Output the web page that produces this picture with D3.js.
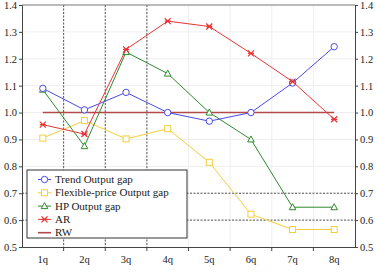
<!DOCTYPE html>
<html><head><meta charset="utf-8">
<script src="https://cdn.jsdelivr.net/npm/d3@7"></script>
<style>body{margin:0;background:#fff}svg{display:block}svg text{font-family:"Liberation Serif","Times New Roman",Times,"DejaVu Serif",serif !important}</style>
</head><body><svg id="c" width="377" height="277"></svg>
<script>
const categories = ["1q","2q","3q","4q","5q","6q","7q","8q"];
const trend = [1.09,1.01,1.075,1.0,0.968,1.0,1.11,1.245];
const flexible = [0.905,0.97,0.902,0.94,0.815,0.622,0.565,0.565];
const hp = [1.085,0.875,1.225,1.145,1.0,0.9,0.648,0.648];
const ar = [0.955,0.92,1.235,1.34,1.32,1.22,1.115,0.975];
const rw = [1,1,1,1,1,1,1,1];
const yTicks = [0.5,0.6,0.7,0.8,0.9,1.0,1.1,1.2,1.3,1.4];
const seriesNames = ["Trend Output gap","Flexible-price Output gap","HP Output gap","AR","RW"];

const svg = d3.select("#c");
const L=22,R=355,T=5,B=247;
const x = d3.scaleBand().domain(categories).range([L,R]);
const y = d3.scaleLinear().domain([0.5,1.4]).range([B,T]);
const cx = d=>x(d)+x.bandwidth()/2;

svg.append("g").selectAll("line").data(yTicks.slice(1,-1)).join("line")
  .attr("x1",L).attr("x2",R).attr("y1",d=>y(d)).attr("y2",d=>y(d))
  .attr("stroke","#efefef").attr("stroke-width",1);
svg.append("g").selectAll("line").data(categories.slice(1)).join("line")
  .attr("x1",d=>x(d)).attr("x2",d=>x(d)).attr("y1",T).attr("y2",B)
  .attr("stroke","#efefef").attr("stroke-width",1);
svg.append("g").selectAll("line").data(categories.slice(1,4)).join("line")
  .attr("x1",d=>x(d)).attr("x2",d=>x(d)).attr("y1",T).attr("y2",B)
  .attr("stroke","#555").attr("stroke-width",1).attr("stroke-dasharray","2,1.5");
svg.append("g").selectAll("line").data([0.6,0.7]).join("line")
  .attr("x1",L).attr("x2",R).attr("y1",d=>y(d)).attr("y2",d=>y(d))
  .attr("stroke","#555").attr("stroke-width",1).attr("stroke-dasharray","2,1.5");

const fmt = d3.format(".1f");
const ga = svg.append("g").attr("transform",`translate(${L},0)`)
  .call(d3.axisLeft(y).tickValues(yTicks).tickFormat(fmt).tickSize(3).tickPadding(2));
const gr = svg.append("g").attr("transform",`translate(${R},0)`)
  .call(d3.axisRight(y).tickValues(yTicks).tickFormat(fmt).tickSize(3).tickPadding(2));
const gb = svg.append("g").attr("transform",`translate(0,${B})`)
  .call(d3.axisBottom(x).tickSize(0).tickPadding(9));
gb.append("g").selectAll("line").data(categories.slice(1)).join("line")
  .attr("x1",d=>x(d)).attr("x2",d=>x(d)).attr("y1",0).attr("y2",4).attr("stroke","#444");
[ga,gr,gb].forEach(g=>{g.attr("font-family",null);g.selectAll(".domain").attr("stroke","#444");g.selectAll(".tick line").attr("stroke","#444");
  g.selectAll("text").attr("font-size",10.5).attr("fill","#222");});
svg.append("line").attr("x1",L).attr("x2",R).attr("y1",T).attr("y2",T).attr("stroke","#777");

const series = [
  {name:seriesNames[0],vals:trend,color:"#4a4ae8",marker:"circle"},
  {name:seriesNames[1],vals:flexible,color:"#f3cf3a",marker:"square"},
  {name:seriesNames[2],vals:hp,color:"#2e8b2e",marker:"triangle"},
  {name:seriesNames[3],vals:ar,color:"#e83535",marker:"x"},
  {name:seriesNames[4],vals:rw,color:"#b24a4a",marker:"none"}
];
function drawMarker(g,type,px,py,color){
  if(type==="circle") g.append("circle").attr("cx",px).attr("cy",py).attr("r",3.2).attr("fill","#fff").attr("stroke",color);
  else if(type==="square") g.append("rect").attr("x",px-3).attr("y",py-3).attr("width",6).attr("height",6).attr("fill","#fff").attr("stroke",color);
  else if(type==="triangle") g.append("path").attr("d",`M${px},${py-3.5}L${px+3.3},${py+2.5}L${px-3.3},${py+2.5}Z`).attr("fill","#fff").attr("stroke",color);
  else if(type==="x") g.append("path").attr("d",`M${px-3},${py-3}L${px+3},${py+3}M${px+3},${py-3}L${px-3},${py+3}M${px-3},${py}L${px+3},${py}`).attr("stroke",color).attr("stroke-width",1.3);
}
const line = d3.line().x((d,i)=>cx(categories[i])).y(d=>y(d));
const order=[4,1,2,0,3];
order.forEach(k=>{
  const s=series[k];
  const g=svg.append("g");
  g.append("path").attr("d",line(s.vals)).attr("fill","none").attr("stroke",s.color).attr("stroke-width",s.marker==="none"?1.6:1);
  s.vals.forEach((v,i)=>{ if(s.marker!=="none") drawMarker(g,s.marker,cx(categories[i]),y(v),s.color); });
});

const lg = svg.append("g");
lg.append("rect").attr("x",27).attr("y",170).attr("width",160).attr("height",68).attr("fill","#fff").attr("stroke","#333");
series.forEach((s,i)=>{
  const yy=179.5+i*13.3;
  lg.append("line").attr("x1",38).attr("x2",51).attr("y1",yy).attr("y2",yy).attr("stroke",s.color).attr("stroke-width",s.marker==="none"?1.6:1);
  if(s.marker!=="none") drawMarker(lg,s.marker,44.5,yy,s.color);
  lg.append("text").attr("x",55).attr("y",yy+3.5).attr("font-size",11).attr("fill","#222").text(s.name);
});
</script></body></html>
